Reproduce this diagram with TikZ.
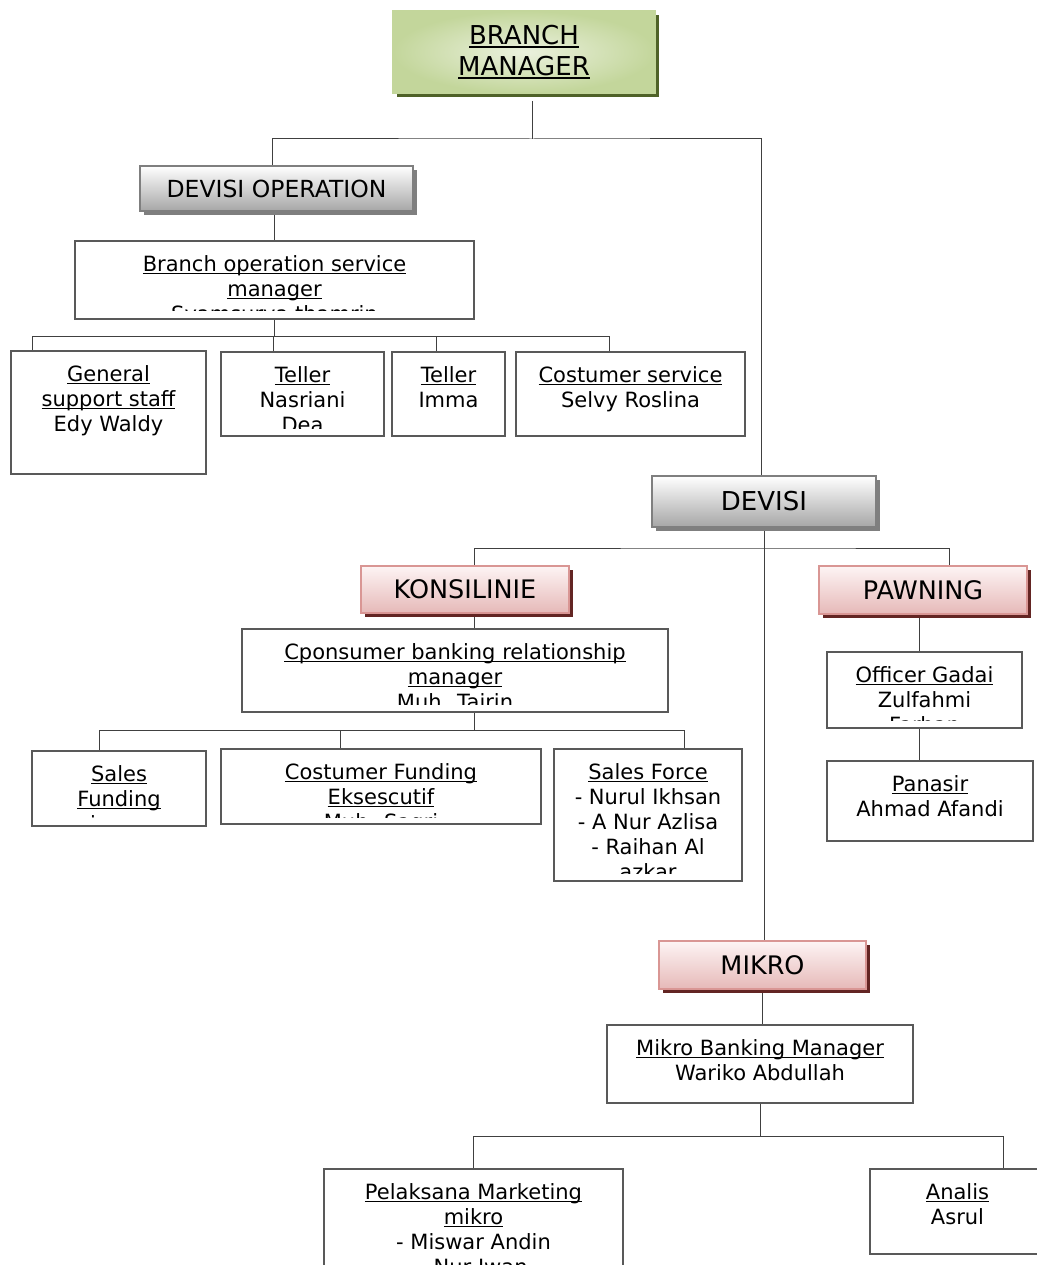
\documentclass[tikz,border=0pt]{standalone}
\usepackage{fontspec}
\setmainfont{DejaVu Sans}
\usetikzlibrary{positioning, shadows, backgrounds}

\definecolor{bmfill}{HTML}{EBF1DE}
\definecolor{bmedge}{HTML}{C3D69B}
\definecolor{bmshadow}{HTML}{4F6228}
\definecolor{grayedge}{HTML}{7F7F7F}
\definecolor{graybot}{HTML}{A6A6A6}
\definecolor{pinktop}{HTML}{FDF4F4}
\definecolor{pinkbot}{HTML}{E6B9B8}
\definecolor{pinkedge}{HTML}{D99694}
\definecolor{pinkshadow}{HTML}{632523}

% underline close to the baseline
\newcommand{\ulin}[1]{\leavevmode\setbox0\hbox{#1}\rlap{\vrule height -1.8pt depth 3pt width \wd0}\box0}

\begin{document}
\begin{tikzpicture}[x=1pt, y=-1pt,
  head/.style={line width=2.5pt, inner sep=0pt, outer sep=0pt, align=center},
  bmhead/.style={head, draw=bmedge, inner color=bmfill, outer color=bmedge,
    drop shadow={shadow xshift=4pt, shadow yshift=-4pt, fill=bmshadow, opacity=1},
    font=\fontsize{26}{31}\selectfont},
  grayhead/.style={head, draw=grayedge, top color=white, bottom color=graybot,
    drop shadow={shadow xshift=4pt, shadow yshift=-4pt, fill=grayedge, opacity=1}},
  pinkhead/.style={head, draw=pinkedge, top color=pinktop, bottom color=pinkbot,
    drop shadow={shadow xshift=4pt, shadow yshift=-4pt, fill=pinkshadow, opacity=1},
    font=\fontsize{25.5}{30}\selectfont},
  staff/.style={draw=black!65, line width=1.2pt, fill=white, inner sep=0pt, outer sep=0pt},
  stafftext/.style={align=center, inner sep=0pt, font=\fontsize{21}{25}\selectfont},
  link/.style={draw=black!75, line width=1pt}]
\useasboundingbox (0,0) rectangle (1036,1265);

% heads
\node[bmhead, minimum width=262pt, minimum height=82pt] (bm) at (524,52) {\ulin{BRANCH}\\\ulin{MANAGER}};
\node[grayhead, minimum width=273pt, minimum height=45pt, font=\fontsize{23.5}{28}\selectfont] (devop) at (276.5,188.5) {DEVISI OPERATION};
\node[grayhead, minimum width=224pt, minimum height=51pt, font=\fontsize{26}{31}\selectfont] (devisi) at (764,501.5) {DEVISI};
\node[pinkhead, minimum width=208pt, minimum height=47pt] (konsi) at (465,589.5) {KONSILINIE};
\node[pinkhead, minimum width=208pt, minimum height=48pt] (pawning) at (923,590) {PAWNING};
\node[pinkhead, minimum width=207pt, minimum height=48pt] (mikro) at (762.5,965) {MIKRO};

% operation
\node[staff, minimum width=399pt, minimum height=78pt] (bosm) at (274.5,280) {};
\begin{scope}
\clip (bosm.north west) rectangle ([yshift=9pt]bosm.south east);
\node[stafftext, below=12.5pt of bosm.north] (bosm-t) {\strut\ulin{Branch operation service}\\\ulin{manager}\\Syamsurya thamrin};
\end{scope}
\node[staff, minimum width=195pt, minimum height=123pt] (general) at (108.5,412.5) {};
\node[stafftext, below=12.5pt of general.north] (general-t) {\strut\ulin{General}\\\ulin{support staff}\\Edy Waldy};
\node[staff, minimum width=163pt, minimum height=84pt] (tellern) at (302.5,394) {};
\begin{scope}
\clip (tellern.north west) rectangle ([yshift=8pt]tellern.south east);
\node[stafftext, below=12.5pt of tellern.north] (tellern-t) {\strut\ulin{Teller}\\Nasriani\\Dea};
\end{scope}
\node[staff, minimum width=113pt, minimum height=84pt] (telleri) at (448.5,394) {};
\node[stafftext, below=12.5pt of telleri.north] (telleri-t) {\strut\ulin{Teller}\\Imma};
\node[staff, minimum width=229pt, minimum height=84pt] (cs) at (630.5,394) {};
\node[stafftext, below=12.5pt of cs.north] (cs-t) {\strut\ulin{Costumer service}\\Selvy Roslina};

% konsilinie
\node[staff, minimum width=426pt, minimum height=83pt] (cbrm) at (455,670.5) {};
\begin{scope}
\clip (cbrm.north west) rectangle ([yshift=8pt]cbrm.south east);
\node[stafftext, below=12.5pt of cbrm.north] (cbrm-t) {\strut\ulin{Cponsumer banking relationship}\\\ulin{manager}\\Muh. Tairin};
\end{scope}
\node[staff, minimum width=174pt, minimum height=75pt] (salesfund) at (119,788.5) {};
\begin{scope}
\clip (salesfund.north west) rectangle ([yshift=9pt]salesfund.south east);
\node[stafftext, below=12.5pt of salesfund.north] (salesfund-t) {\strut\ulin{Sales}\\\ulin{Funding}\\irwan};
\end{scope}
\node[staff, minimum width=320pt, minimum height=75pt] (cfe) at (381,786.5) {};
\begin{scope}
\clip (cfe.north west) rectangle ([yshift=7pt]cfe.south east);
\node[stafftext, below=12.5pt of cfe.north] (cfe-t) {\strut\ulin{Costumer Funding}\\\ulin{Eksescutif}\\Muh. Saqri};
\end{scope}
\node[staff, minimum width=188pt, minimum height=132pt] (salesforce) at (648,815) {};
\begin{scope}
\clip (salesforce.north west) rectangle ([yshift=8pt]salesforce.south east);
\node[stafftext, below=12.5pt of salesforce.north] (salesforce-t) {\strut\ulin{Sales Force}\\- Nurul Ikhsan\\- A Nur Azlisa\\- Raihan Al\\azkar};
\end{scope}

% pawning
\node[staff, minimum width=195pt, minimum height=76pt] (officer) at (924.5,690) {};
\begin{scope}
\clip (officer.north west) rectangle ([yshift=8pt]officer.south east);
\node[stafftext, below=12.5pt of officer.north] (officer-t) {\strut\ulin{Officer Gadai}\\Zulfahmi\\Farhan};
\end{scope}
\node[staff, minimum width=206pt, minimum height=80pt] (panasir) at (930,801) {};
\node[stafftext, below=12.5pt of panasir.north] (panasir-t) {\strut\ulin{Panasir}\\Ahmad Afandi};

% mikro
\node[staff, minimum width=306pt, minimum height=78pt] (mbm) at (760,1064) {};
\node[stafftext, below=12.5pt of mbm.north] (mbm-t) {\strut\ulin{Mikro Banking Manager}\\Wariko Abdullah};
\node[staff, minimum width=299pt, minimum height=140pt] (pelaksana) at (473.5,1239) {};
\node[stafftext, below=12.5pt of pelaksana.north] (pelaksana-t) {\strut\ulin{Pelaksana Marketing}\\\ulin{mikro}\\- Miswar Andin\\- Nur Iwan};
\node[staff, minimum width=175pt, minimum height=85pt] (analis) at (957.5,1211.5) {};
\node[stafftext, below=12.5pt of analis.north] (analis-t) {\strut\ulin{Analis}\\Asrul};

% connectors
\begin{scope}[on background layer]
\coordinate (bmj) at (532,139);
\coordinate (dvj) at (764,548);
\draw[link] ([shift={(8pt,-8pt)}]bm.south) -- (bmj);
\draw[link] ([xshift=-4.5pt]devop.north) |- (bmj) -| ([xshift=-3pt]devisi.north);
\draw[link] (bosm.north) -- (bosm.north |- devop.south);
\draw[link] (bosm.south) -- ++(0,17);
\draw[link] ([xshift=-76.5pt]general.north) -- ++(0,-15) -| ([xshift=-21.5pt]cs.north);
\draw[link] ([xshift=-29.5pt]tellern.north) -- ++(0,-16);
\draw[link] ([xshift=-12.5pt]telleri.north) -- ++(0,-16);
\draw[link] (devisi.south) -- (devisi.south |- mikro.north);
\draw[link] ([xshift=9pt]konsi.north) |- (dvj) -| ([xshift=26pt]pawning.north);
\draw[link] ([xshift=9pt]konsi.south) -- ([xshift=19pt]cbrm.north);
\draw[link] ([xshift=19pt]cbrm.south) -- ++(0,18);
\draw[link] ([xshift=-20pt]salesfund.north) -- ++(0,-21) -| ([xshift=36pt]salesforce.north);
\draw[link] ([xshift=-41pt]cfe.north) -- ++(0,-19);
\draw[link] ([xshift=-4pt]pawning.south) -- ([xshift=-5.5pt]officer.north);
\draw[link] ([xshift=-5.5pt]officer.south) -- ([xshift=-11pt]panasir.north);
\draw[link] (mikro.south) -- (mikro.south |- mbm.north);
\draw[link] (mbm.south) -- ++(0,33);
\draw[link] (pelaksana.north) -- ++(0,-33) -| ([xshift=45.5pt]analis.north);
\end{scope}
\end{tikzpicture}
\end{document}
